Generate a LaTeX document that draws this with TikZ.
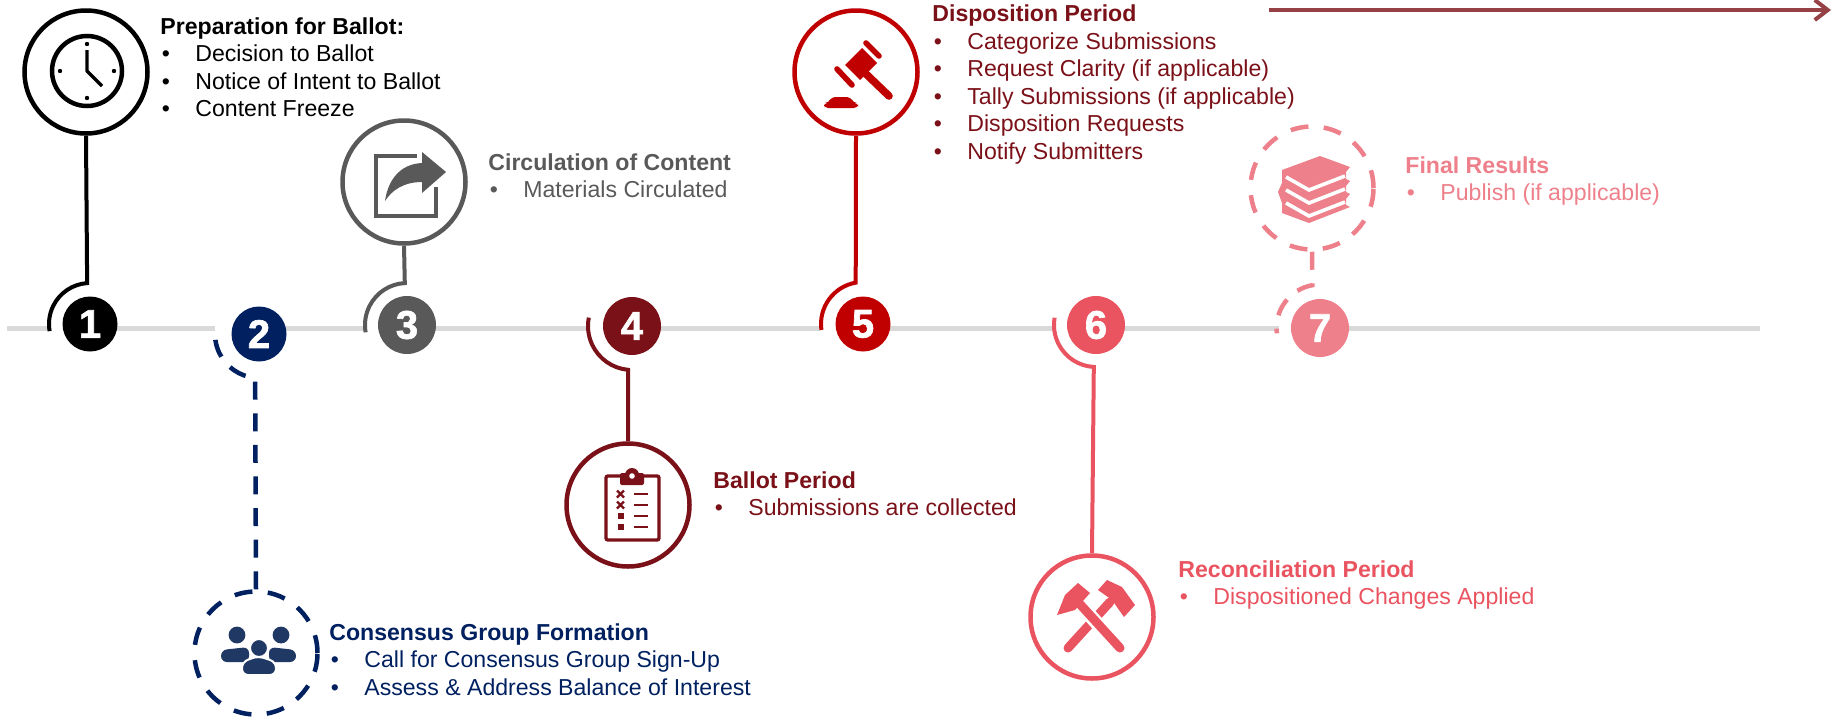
\documentclass[tikz,border=0pt]{standalone}
\usepackage{fontspec}
\setmainfont{Liberation Sans}
\newfontfamily\badgefont[FakeBold=1.6]{Liberation Sans Bold}
\usetikzlibrary{arrows.meta,positioning}

\definecolor{navy}{HTML}{002060}
\definecolor{slate}{HTML}{1F3864}
\definecolor{graphite}{HTML}{595959}
\definecolor{wine}{HTML}{7B1118}
\definecolor{scarlet}{HTML}{C00000}
\definecolor{coral}{HTML}{E95460}
\definecolor{blush}{HTML}{ED808A}

\tikzstyle{ring} = [circle,draw,fill=white,line width=2.25pt,minimum size=61.5pt,inner sep=0pt]
\tikzstyle{dashring} = [ring,dash pattern=on 9pt off 7.7pt]
\tikzstyle{badge} = [circle,text=white,minimum size=29pt,inner sep=0pt,
  font=\fontsize{20}{20}\badgefont]
\tikzstyle{stem} = [draw,line width=2pt]
\tikzstyle{dashstem} = [stem,line width=2.25pt,dash pattern=on 9pt off 6.8pt]
\tikzstyle{rail} = [draw,line width=2.5pt,color=black!15]
\tikzstyle{note} = [anchor=north west,inner sep=0pt,align=left,
  font=\fontsize{11.55}{13.75}\selectfont]
\newcommand{\noteitem}[1]{\makebox[17.5pt][l]{\hspace{0.7pt}\textbullet}#1}

\begin{document}
\begin{tikzpicture}[x=0.5pt,y=-0.5pt]
\useasboundingbox (0,0) rectangle (1831,718);

% timeline
\path [rail] (7,328) -- (49,328) (90,328) -- (215,328) (259,328) -- (366,328)
  (407,328) -- (590,328) (632,328) -- (821,328) (863,328) -- (1055,328)
  (1096,328) -- (1279,328) (1320,328) -- (1760,328);

\coordinate (arrow_start) at (1269,10);
\coordinate (arrow_end) at (1831,10);
\draw [line width=2pt,color=wine!80,-{Straight Barb[length=6.5pt,width=10pt]}] (arrow_start) -- (arrow_end);

% numbered badges
\node [badge,fill=black,minimum size=27.5pt] (badge_one) at (90,324) {1};
\node [badge,fill=navy,minimum size=27.5pt] (badge_two) at (259,334) {2};
\node [badge,fill=graphite] (badge_three) at (407,325) {3};
\node [badge,fill=wine] (badge_four) at (632,326) {4};
\node [badge,fill=scarlet,minimum size=27.5pt] (badge_five) at (863,324) {5};
\node [badge,fill=coral] (badge_six) at (1096,325) {6};
\node [badge,fill=blush] (badge_seven) at (1320,328) {7};

% icon rings
\node [ring,draw=black] (clock_ring) at (86,72) {};
\node [dashring,draw=navy] (group_ring) at (256,653) {};
\node [ring,draw=graphite] (share_ring) at (404,182) {};
\node [ring,draw=wine] (ballot_ring) at (628,505) {};
\node [ring,draw=scarlet] (gavel_ring) at (856,72) {};
\node [ring,draw=coral] (hammer_ring) at (1092,617) {};
\node [dashring,draw=blush] (books_ring) at (1312,188) {};

% stems from ring to badge
\coordinate (stem_one) at ([shift={(94:20.5pt)}]badge_one.center);
\coordinate (stem_two) at ([shift={(265:22pt)}]badge_two.center);
\coordinate (stem_three) at ([shift={(93:21pt)}]badge_three.center);
\coordinate (stem_four) at ([shift={(265:22pt)}]badge_four.center);
\coordinate (stem_five) at ([shift={(100:21pt)}]badge_five.center);
\coordinate (stem_six) at ([shift={(267:21pt)}]badge_six.center);
\coordinate (stem_seven) at ([shift={(100:21.75pt)}]badge_seven.center);

\path [stem,color=black] (clock_ring.south) -- (stem_one) arc [start angle=94,end angle=190,radius=20.5pt];
\path [dashstem,color=navy] (group_ring.north) -- (stem_two) arc [start angle=265,end angle=172,radius=22pt];
\path [stem,color=graphite] (share_ring.south) -- (stem_three) arc [start angle=93,end angle=190,radius=21pt];
\path [stem,color=wine] (ballot_ring.north) -- (stem_four) arc [start angle=265,end angle=169,radius=22pt];
\path [stem,color=scarlet] (gavel_ring.south) -- (stem_five) arc [start angle=100,end angle=188,radius=21pt];
\path [stem,color=coral] (hammer_ring.north) -- (stem_six) arc [start angle=267,end angle=170,radius=21pt];
\path [dashstem,color=blush] (books_ring.south) -- (stem_seven) arc [start angle=100,end angle=187,radius=21.75pt];

% clock
\draw [line width=2.25pt] (87,71) circle [radius=17.5pt];
\draw [line width=1.7pt,line join=round] (87,50) -- (87,71) -- (102,86);
\foreach \dotx/\doty in {87/44,87/98,60/71,114/71} {
  \fill (\dotx,\doty) circle [radius=1.1pt];
}

% share
\draw [graphite,line width=1.7pt] (417,156) -- (376,156) -- (376,216) -- (436,216) -- (436,187);
\fill [graphite] (446,172) -- (422,152) -- (422,163) .. controls (400,164) and (388,180) .. (385,201)
  .. controls (392,190) and (404,182) .. (422,182) -- (422,193) -- cycle;

% people
\fill [slate] (237,635) circle [radius=4.2pt] (281,635) circle [radius=4.2pt];
\fill [slate,rounded corners=3pt] (221,662) -- (221,650) -- (249,647) -- (249,662) -- cycle;
\fill [slate,rounded corners=3pt] (296,662) -- (296,650) -- (269,647) -- (269,662) -- cycle;
\fill [slate,draw=white,line width=1pt] (259,648) circle [radius=4.5pt];
\fill [slate,draw=white,line width=1pt,rounded corners=3pt] (242,675) -- (242,662) -- (258,656) -- (276,662) -- (276,675) -- cycle;

% clipboard
\draw [wine,line width=1.7pt,rounded corners=1pt] (606,476) rectangle (659,540);
\fill [wine,rounded corners=1pt] (620,485) rectangle (644,473);
\fill [wine] (632,475) circle [radius=3.5pt];
\fill [white] (632,476) circle [radius=1.4pt];
\foreach \rowy in {494,505} {
  \draw [wine,line width=1.1pt] (617,\rowy-3.5) -- (624,\rowy+3.5) (617,\rowy+3.5) -- (624,\rowy-3.5);
}
\foreach \rowy in {516,527} {
  \fill [wine] (617.5,\rowy-3) rectangle (623.5,\rowy+3);
}
\foreach \rowy in {494,505,516,527} {
  \draw [wine,line width=1.1pt] (634,\rowy) -- (648,\rowy);
}

% gavel
\fill [scarlet] (862,48) -- (877,63) -- (860,80) -- (845,65) -- cycle;
\draw [scarlet,line width=2.8pt,line cap=round] (866,43) -- (879,56) (837,69) -- (852,85);
\draw [scarlet,line width=3.8pt,line cap=round] (864,72) -- (889,96);
\fill [scarlet,rounded corners=2pt] (824,108) -- (824,103) -- (829,103) -- (831,97) -- (851,97) -- (853,103) -- (858,103) -- (858,108) -- cycle;

% crossed hammers
\draw [coral,line width=4.5pt,line cap=round] (1068,648) -- (1110,602);
\fill [coral] (1098,590) -- (1107,580) -- (1122,587) -- (1135,605) -- (1124,617) -- (1112,600) -- cycle;
\draw [white,line width=7pt] (1078,602) -- (1112,640);
\draw [coral,line width=4.5pt,line cap=round] (1078,602) -- (1120,648);
\fill [coral] (1057,615) -- (1065,595) -- (1078,583) -- (1090,593) -- (1075,610) -- cycle;

% books
\fill [blush] (1320,156) -- (1350,167) -- (1346,172) -- (1346,179) -- (1350,181) -- (1346,186)
  -- (1346,192) -- (1350,194) -- (1346,199) -- (1346,205) -- (1350,207) -- (1309,223)
  -- (1282,213) -- (1282,203) -- (1278,192) -- (1282,183) -- (1282,170) -- cycle;
\draw [white,line width=1.8pt] (1286,177) -- (1309,190) -- (1345,176)
  (1286,190) -- (1309,203) -- (1345,189) (1286,203) -- (1309,216) -- (1345,202);

% notes
\node [note] (clock_note) at (160,17) {\textbf{Preparation for Ballot:}\\
  \noteitem{Decision to Ballot}\\ \noteitem{Notice of Intent to Ballot}\\ \noteitem{Content Freeze}};
\node [note,text=navy] (group_note) at (329,623) {\textbf{Consensus Group Formation}\\
  \noteitem{Call for Consensus Group Sign-Up}\\ \noteitem{Assess \& Address Balance of Interest}};
\node [note,text=graphite] (share_note) at (488,153) {\textbf{Circulation of Content}\\
  \noteitem{Materials Circulated}};
\node [note,text=wine] (ballot_note) at (713,471) {\textbf{Ballot Period}\\
  \noteitem{Submissions are collected}};
\node [note,text=wine] (gavel_note) at (932,4.5) {\textbf{Disposition Period}\\
  \noteitem{Categorize Submissions}\\ \noteitem{Request Clarity (if applicable)}\\
  \noteitem{Tally Submissions (if applicable)}\\ \noteitem{Disposition Requests}\\
  \noteitem{Notify Submitters}};
\node [note,text=coral] (hammer_note) at (1178,560) {\textbf{Reconciliation Period}\\
  \noteitem{Dispositioned Changes Applied}};
\node [note,text=blush] (books_note) at (1405,156) {\textbf{Final Results}\\
  \noteitem{Publish (if applicable)}};

\end{tikzpicture}
\end{document}
